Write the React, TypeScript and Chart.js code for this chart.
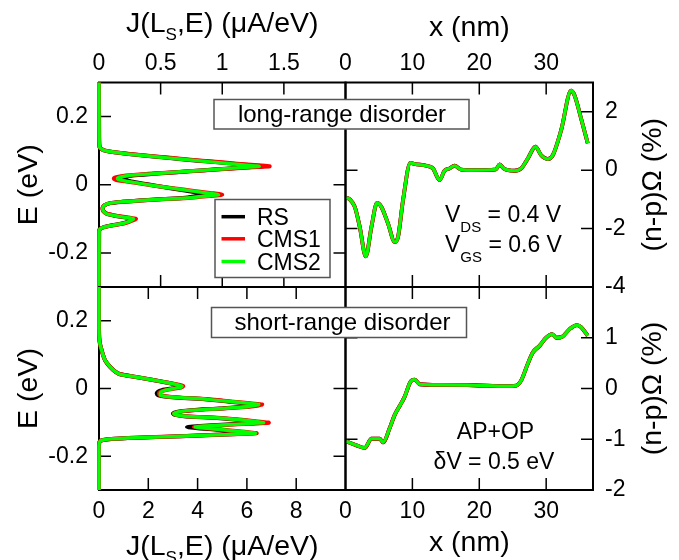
import React, { useEffect, useRef } from 'react';
import { Chart, registerables } from 'chart.js';

Chart.register(...registerables);

const FONT = '"Liberation Sans", Arial, Helvetica, sans-serif';
const CW = 679;
const CH = 560;

// ---------------- data ----------------
const SERIES_NAMES = ['RS', 'CMS1', 'CMS2'];
const SERIES_COLORS = ['#000000', '#ff0000', '#00ff00'];

// Long-range disorder: J(LS,E) spectrum (E in eV, J in uA/eV)
const LR_E = [0.30, 0.14, 0.110, 0.105, 0.100, 0.096, 0.090, 0.083, 0.075, 0.068, 0.062, 0.057, 0.054, 0.051, 0.047, 0.042, 0.037, 0.032, 0.027, 0.022, 0.018, 0.014, 0.010, 0.004, -0.003, -0.010, -0.018, -0.024, -0.029, -0.033, -0.038, -0.042, -0.046, -0.050, -0.054, -0.060, -0.066, -0.071, -0.077, -0.085, -0.091, -0.096, -0.100, -0.104, -0.109, -0.113, -0.119, -0.125, -0.130, -0.136, -0.30];
const LR_J_RS = [0, 0.001, 0.005, 0.02, 0.05, 0.11, 0.24, 0.44, 0.67, 0.89, 1.08, 1.24, 1.33, 1.20, 1.03, 0.83, 0.63, 0.44, 0.27, 0.20, 0.19, 0.21, 0.26, 0.35, 0.46, 0.58, 0.71, 0.80, 0.85, 0.80, 0.70, 0.52, 0.33, 0.19, 0.09, 0.045, 0.032, 0.03, 0.035, 0.06, 0.13, 0.22, 0.27, 0.255, 0.23, 0.195, 0.105, 0.034, 0.008, 0.001, 0];
const LR_J_CMS1 = [0, 0.001, 0.005, 0.02, 0.05, 0.11, 0.25, 0.46, 0.70, 0.92, 1.12, 1.29, 1.385, 1.24, 1.06, 0.84, 0.62, 0.40, 0.22, 0.14, 0.12, 0.14, 0.21, 0.32, 0.45, 0.60, 0.77, 0.90, 1.0, 0.90, 0.75, 0.55, 0.34, 0.19, 0.09, 0.045, 0.03, 0.028, 0.035, 0.065, 0.14, 0.24, 0.30, 0.28, 0.245, 0.21, 0.115, 0.036, 0.008, 0.001, 0];
const LR_J_CMS2 = [0, 0.001, 0.005, 0.02, 0.05, 0.11, 0.24, 0.44, 0.67, 0.88, 1.06, 1.21, 1.30, 1.18, 1.02, 0.82, 0.62, 0.42, 0.24, 0.17, 0.15, 0.17, 0.23, 0.33, 0.45, 0.59, 0.75, 0.87, 0.97, 0.88, 0.74, 0.54, 0.335, 0.19, 0.09, 0.045, 0.032, 0.03, 0.035, 0.06, 0.13, 0.22, 0.28, 0.265, 0.235, 0.20, 0.11, 0.035, 0.008, 0.001, 0];

// Short-range disorder: J(LS,E) spectrum
const SR_E = [0.30, 0.18, 0.15, 0.132, 0.115, 0.100, 0.083, 0.064, 0.050, 0.042, 0.034, 0.025, 0.017, 0.011, 0.007, 0.003, 0.000, -0.005, -0.010, -0.015, -0.020, -0.025, -0.032, -0.039, -0.044, -0.047, -0.050, -0.054, -0.059, -0.064, -0.069, -0.074, -0.078, -0.082, -0.088, -0.094, -0.099, -0.101, -0.104, -0.108, -0.111, -0.114, -0.118, -0.122, -0.126, -0.130, -0.132, -0.134, -0.137, -0.141, -0.145, -0.149, -0.153, -0.158, -0.170, -0.30];
const SR_J_RS = [0, 0, 0.01, 0.04, 0.1, 0.16, 0.25, 0.45, 0.66, 0.86, 1.5, 2.2, 2.8, 3.15, 3.3, 3.22, 2.95, 2.55, 2.38, 2.34, 2.4, 2.85, 4.3, 5.3, 5.95, 6.4, 6.25, 5.9, 4.9, 3.75, 3.15, 3.0, 3.08, 3.45, 4.9, 5.8, 6.4, 6.6, 5.9, 4.8, 4.1, 3.57, 4.1, 4.8, 5.4, 5.95, 6.2, 5.9, 4.75, 3.3, 1.8, 0.5, 0.12, 0.02, 0, 0];
const SR_J_CMS1 = [0, 0, 0.01, 0.04, 0.1, 0.16, 0.25, 0.45, 0.66, 0.86, 1.5, 2.2, 2.82, 3.24, 3.42, 3.34, 3.04, 2.68, 2.47, 2.43, 2.48, 2.95, 4.4, 5.45, 6.2, 6.62, 6.48, 6.1, 5.05, 3.82, 3.22, 3.04, 3.12, 3.52, 5.05, 6.0, 6.65, 6.89, 6.15, 5.1, 4.35, 3.85, 4.4, 5.05, 5.65, 6.15, 6.4, 6.05, 4.85, 3.3, 1.8, 0.5, 0.12, 0.02, 0, 0];
const SR_J_CMS2 = [0, 0, 0.01, 0.04, 0.1, 0.16, 0.25, 0.45, 0.66, 0.86, 1.5, 2.2, 2.8, 3.2, 3.37, 3.3, 3.02, 2.7, 2.52, 2.48, 2.5, 2.95, 4.38, 5.4, 6.1, 6.48, 6.35, 6.0, 5.0, 3.8, 3.2, 3.03, 3.1, 3.5, 5.0, 5.9, 6.5, 6.68, 6.0, 5.0, 4.3, 3.9, 4.4, 5.0, 5.6, 6.1, 6.35, 6.0, 4.8, 3.3, 1.8, 0.5, 0.12, 0.02, 0, 0];

// (n-p)Omega (%) along x (nm)
const X_LR = [0.1, 0.64, 1.39, 2.13, 3.03, 3.88, 4.72, 5.37, 6.36, 7.36, 7.85, 8.6, 9.7, 10.34, 12.1, 13.07, 14.07, 14.8, 15.57, 16.3, 17.3, 19.05, 22.5, 23.03, 23.63, 25.27, 26.27, 27.26, 28.4, 29.25, 30.24, 30.99, 32.24, 33.73, 34.22, 35.22, 36.21];
const NP_LR = [-0.94, -1.0, -1.26, -1.94, -2.95, -1.94, -1.12, -1.26, -1.83, -2.46, -2.29, -1.03, 0.25, 0.21, 0.15, 0.06, -0.34, -0.02, 0.06, 0.15, 0.02, 0, 0.03, 0.2, 0.06, -0.02, 0.06, 0.4, 0.8, 0.51, 0.38, 0.51, 1.37, 2.72, 2.57, 1.77, 0.92];
const X_SR = [0.1, 1.64, 2.88, 3.88, 5.12, 5.61, 6.61, 7.36, 8.1, 8.85, 9.7, 10.34, 11.09, 14.07, 19.05, 24.03, 25.52, 26.27, 27.26, 28.0, 29.0, 30.0, 30.9, 31.5, 32.4, 33.5, 34.63, 35.22, 36.21];
const NP_SR = [-1.04, -1.12, -1.17, -0.99, -0.99, -1.06, -0.78, -0.52, -0.345, -0.16, 0.13, 0.175, 0.084, 0.07, 0.064, 0.045, 0.058, 0.16, 0.49, 0.71, 0.84, 1.0, 1.07, 1.0, 1.02, 1.17, 1.25, 1.21, 1.04];

// tick values and labels
const J_TOP_TICKS = [0, 0.5, 1, 1.5];
const J_TOP_LABELS = ['0', '0.5', '1', '1.5'];
const J_BOT_TICKS = [0, 2, 4, 6, 8];
const J_BOT_LABELS = ['0', '2', '4', '6', '8'];
const E_TICKS = [0.2, 0, -0.2];
const E_LABELS = ['0.2', '0', '-0.2'];
const X_TICKS = [0, 10, 20, 30];
const X_LABELS = ['0', '10', '20', '30'];
const NP_TOP_TICKS = [2, 0, -2, -4];
const NP_TOP_LABELS = ['2', '0', '-2', '-4'];
const NP_BOT_TICKS = [1, 0, -1, -2];
const NP_BOT_LABELS = ['1', '0', '-1', '-2'];

// ---------------- helpers ----------------
type Seg = [string, boolean?];

function rich(
  ctx: CanvasRenderingContext2D,
  segs: Seg[],
  x: number,
  y: number,
  size: number,
  subSize: number,
  subDy: number,
  align: 'left' | 'center',
  rot = 0
) {
  ctx.save();
  ctx.translate(x, y);
  if (rot) ctx.rotate(rot);
  ctx.fillStyle = '#000';
  ctx.textBaseline = 'alphabetic';
  ctx.textAlign = 'left';
  const f = (sub?: boolean) => `${sub ? subSize : size}px ${FONT}`;
  let w = 0;
  for (const [t, sub] of segs) {
    ctx.font = f(sub);
    w += ctx.measureText(t).width;
  }
  let cx = align === 'center' ? -w / 2 : 0;
  for (const [t, sub] of segs) {
    ctx.font = f(sub);
    ctx.fillText(t, cx, sub ? subDy : 0);
    cx += ctx.measureText(t).width;
  }
  ctx.restore();
}

function box(ctx: CanvasRenderingContext2D, x: number, y: number, w: number, h: number) {
  ctx.save();
  ctx.fillStyle = '#fff';
  ctx.fillRect(x, y, w, h);
  ctx.strokeStyle = '#555';
  ctx.lineWidth = 1.5;
  ctx.strokeRect(x, y, w, h);
  ctx.restore();
}

function spectrumSets(E: number[], Js: number[][]) {
  return Js.map((J, i) => ({
    label: SERIES_NAMES[i],
    data: E.map((e, k) => ({ x: J[k], y: e })),
    borderColor: SERIES_COLORS[i],
    backgroundColor: SERIES_COLORS[i],
    borderWidth: i === 2 ? 3.4 : 4,
    pointRadius: 0,
    pointHoverRadius: 0,
    showLine: true,
    fill: false,
    tension: 0.25,
    borderJoinStyle: 'round',
    order: 3 - i,
    clip: 4,
  }));
}

function profileSets(X: number[], V: number[]) {
  return SERIES_NAMES.map((name, i) => ({
    label: name,
    data: X.map((x, k) => ({ x, y: V[k] })),
    borderColor: SERIES_COLORS[i],
    backgroundColor: SERIES_COLORS[i],
    borderWidth: i === 2 ? 3.2 : 3.8,
    pointRadius: 0,
    pointHoverRadius: 0,
    showLine: true,
    fill: false,
    cubicInterpolationMode: 'monotone',
    borderJoinStyle: 'round',
    order: 3 - i,
    clip: 4,
  }));
}

type Spec = {
  area: { l: number; t: number; r: number; b: number };
  xPos: 'top' | 'bottom';
  yPos: 'left' | 'right';
  xRange: [number, number];
  yRange: [number, number];
  xTicks: number[];
  xLabels: string[];
  yTicks: number[];
  yLabels: string[];
  xPad: number;
  yPad: number;
  datasets: any[];
  deco: (ctx: CanvasRenderingContext2D, chart: any) => void;
};

const AX_W = 50;
const AX_H = 40;
const TICK_LEN = 12;
const TICK_FONT = 23;
const TITLE_FONT = 28.5;

function makeChart(canvas: HTMLCanvasElement, s: Spec) {
  const padding = {
    left: s.yPos === 'left' ? s.area.l - AX_W : s.area.l,
    right: s.yPos === 'right' ? CW - s.area.r - AX_W : CW - s.area.r,
    top: s.xPos === 'top' ? s.area.t - AX_H : s.area.t,
    bottom: s.xPos === 'bottom' ? CH - s.area.b - AX_H : CH - s.area.b,
  };
  const lab = (ticks: number[], labels: string[]) => (v: any) => {
    const i = ticks.findIndex((t) => Math.abs(t - Number(v)) < 1e-9);
    return i >= 0 ? labels[i] : '';
  };
  const asc = (a: number[]) => [...a].sort((p, q) => p - q).map((v) => ({ value: v }));
  const deco = {
    id: 'deco',
    beforeDatasetsDraw(chart: any) {
      const { ctx, chartArea: a } = chart;
      const xs = chart.scales.x;
      const ys = chart.scales.y;
      ctx.save();
      ctx.strokeStyle = '#000';
      ctx.lineWidth = 1.5;
      ctx.beginPath();
      for (const v of s.xTicks) {
        const p = xs.getPixelForValue(v);
        if (p > a.left + 2 && p < a.right - 2) {
          ctx.moveTo(p, a.top);
          ctx.lineTo(p, a.top + TICK_LEN);
          ctx.moveTo(p, a.bottom);
          ctx.lineTo(p, a.bottom - TICK_LEN);
        }
      }
      for (const v of s.yTicks) {
        const p = ys.getPixelForValue(v);
        if (p > a.top + 2 && p < a.bottom - 2) {
          ctx.moveTo(a.left, p);
          ctx.lineTo(a.left + TICK_LEN, p);
          ctx.moveTo(a.right, p);
          ctx.lineTo(a.right - TICK_LEN, p);
        }
      }
      ctx.stroke();
      ctx.lineWidth = 2;
      ctx.strokeRect(a.left, a.top, a.right - a.left, a.bottom - a.top);
      ctx.restore();
    },
    afterDraw(chart: any) {
      s.deco(chart.ctx, chart);
    },
  };
  return new Chart(canvas, {
    type: 'scatter',
    data: { datasets: s.datasets },
    options: {
      responsive: false,
      animation: false,
      devicePixelRatio: 1,
      events: [],
      layout: { padding },
      plugins: { legend: { display: false }, tooltip: { enabled: false }, title: { display: false } },
      scales: {
        x: {
          type: 'linear',
          position: s.xPos,
          min: s.xRange[0],
          max: s.xRange[1],
          grid: { display: false, drawTicks: false },
          border: { display: false },
          afterBuildTicks: (sc: any) => {
            sc.ticks = asc(s.xTicks);
          },
          afterFit: (sc: any) => {
            sc.height = AX_H;
          },
          ticks: {
            autoSkip: false,
            maxRotation: 0,
            minRotation: 0,
            padding: s.xPad,
            color: '#000',
            font: { family: FONT, size: TICK_FONT },
            callback: lab(s.xTicks, s.xLabels),
          },
        },
        y: {
          type: 'linear',
          position: s.yPos,
          min: s.yRange[0],
          max: s.yRange[1],
          grid: { display: false, drawTicks: false },
          border: { display: false },
          afterBuildTicks: (sc: any) => {
            sc.ticks = asc(s.yTicks);
          },
          afterFit: (sc: any) => {
            sc.width = AX_W;
          },
          ticks: {
            autoSkip: false,
            padding: s.yPad,
            color: '#000',
            font: { family: FONT, size: TICK_FONT },
            callback: lab(s.yTicks, s.yLabels),
          },
        },
      },
    } as any,
    plugins: [deco as any],
  });
}

// ---------------- layout ----------------
const L = 99;
const M = 345.5;
const R = 593;
const T = 82.5;
const MID = 287;
const B = 490;
const J_TITLE: Seg[] = [['J(L'], ['S', true], [',E) (\u03bcA/eV)']];
const NP_TITLE: Seg[] = [['(n-p)\u03a9 (%)']];
const E_TITLE: Seg[] = [['E (eV)']];
const X_TITLE: Seg[] = [['x (nm)']];

const specTL: Spec = {
  area: { l: L, t: T, r: M, b: MID },
  xPos: 'top',
  yPos: 'left',
  xRange: [0, 2],
  yRange: [-0.3, 0.3],
  xTicks: J_TOP_TICKS,
  xLabels: J_TOP_LABELS,
  yTicks: E_TICKS,
  yLabels: E_LABELS,
  xPad: 5,
  yPad: 11,
  datasets: spectrumSets(LR_E, [LR_J_RS, LR_J_CMS1, LR_J_CMS2]),
  deco: (ctx, chart) => {
    const a = chart.chartArea;
    rich(ctx, J_TITLE, (a.left + a.right) / 2, 31.5, TITLE_FONT, 17, 8.5, 'center');
    rich(ctx, E_TITLE, 36.5, (a.top + a.bottom) / 2, TITLE_FONT, 17, 8, 'center', -Math.PI / 2);
    box(ctx, 214, 99.5, 255, 29.5);
    rich(ctx, [['long-range disorder']], 342, 121.5, 24, 16, 8, 'center');
    // legend
    box(ctx, 215, 199.5, 115, 78);
    const rows = [216.7, 238.8, 261.5];
    SERIES_NAMES.forEach((name, i) => {
      ctx.save();
      ctx.strokeStyle = SERIES_COLORS[i];
      ctx.lineWidth = 3.5;
      ctx.beginPath();
      ctx.moveTo(221.5, rows[i]);
      ctx.lineTo(245, rows[i]);
      ctx.stroke();
      ctx.restore();
      rich(ctx, [[name]], 257, rows[i] + 8.3, 23, 15, 8, 'left');
    });
  },
};

const specTR: Spec = {
  area: { l: M, t: T, r: R, b: MID },
  xPos: 'top',
  yPos: 'right',
  xRange: [0, 37],
  yRange: [-4, 3],
  xTicks: X_TICKS,
  xLabels: X_LABELS,
  yTicks: NP_TOP_TICKS,
  yLabels: NP_TOP_LABELS,
  xPad: 5,
  yPad: 12,
  datasets: profileSets(X_LR, NP_LR),
  deco: (ctx, chart) => {
    const a = chart.chartArea;
    rich(ctx, X_TITLE, (a.left + a.right) / 2, 35.5, TITLE_FONT, 17, 8, 'center');
    rich(ctx, NP_TITLE, 660.5, (a.top + a.bottom) / 2, TITLE_FONT, 17, 8, 'center', -Math.PI / 2);
    rich(ctx, [['V'], ['DS', true], [' = 0.4 V']], 445, 221.5, 23, 15, 10, 'left');
    rich(ctx, [['V'], ['GS', true], [' = 0.6 V']], 445, 251.5, 23, 15, 10, 'left');
  },
};

const specBL: Spec = {
  area: { l: L, t: MID, r: M, b: B },
  xPos: 'bottom',
  yPos: 'left',
  xRange: [0, 10],
  yRange: [-0.3, 0.3],
  xTicks: J_BOT_TICKS,
  xLabels: J_BOT_LABELS,
  yTicks: E_TICKS,
  yLabels: E_LABELS,
  xPad: 8,
  yPad: 11,
  datasets: spectrumSets(SR_E, [SR_J_RS, SR_J_CMS1, SR_J_CMS2]),
  deco: (ctx, chart) => {
    const a = chart.chartArea;
    rich(ctx, J_TITLE, (a.left + a.right) / 2, 554.5, TITLE_FONT, 17, 8.5, 'center');
    rich(ctx, E_TITLE, 36.5, (a.top + a.bottom) / 2, TITLE_FONT, 17, 8, 'center', -Math.PI / 2);
    box(ctx, 211.5, 307.5, 255, 30);
    rich(ctx, [['short-range disorder']], 342.5, 330, 24, 16, 8, 'center');
  },
};

const specBR: Spec = {
  area: { l: M, t: MID, r: R, b: B },
  xPos: 'bottom',
  yPos: 'right',
  xRange: [0, 37],
  yRange: [-2, 2],
  xTicks: X_TICKS,
  xLabels: X_LABELS,
  yTicks: NP_BOT_TICKS,
  yLabels: NP_BOT_LABELS,
  xPad: 8,
  yPad: 12,
  datasets: profileSets(X_SR, NP_SR),
  deco: (ctx, chart) => {
    const a = chart.chartArea;
    rich(ctx, X_TITLE, (a.left + a.right) / 2, 550.8, TITLE_FONT, 17, 8, 'center');
    rich(ctx, NP_TITLE, 660.5, (a.top + a.bottom) / 2, TITLE_FONT, 17, 8, 'center', -Math.PI / 2);
    rich(ctx, [['AP+OP']], 495.5, 439.3, 23, 15, 8, 'center');
    rich(ctx, [['\u03b4V = 0.5 eV']], 494, 469.3, 23, 15, 8, 'center');
  },
};

// drawing order: right panels below, left panels (with the boxes) on top
const SPECS = [specTR, specBR, specTL, specBL];

export default function App() {
  const refs = [
    useRef<HTMLCanvasElement>(null),
    useRef<HTMLCanvasElement>(null),
    useRef<HTMLCanvasElement>(null),
    useRef<HTMLCanvasElement>(null),
  ];
  useEffect(() => {
    document.body.style.margin = '0';
    const charts = SPECS.map((s, i) => makeChart(refs[i].current as HTMLCanvasElement, s));
    return () => charts.forEach((c) => c.destroy());
  }, []);
  return (
    <div style={{ position: 'fixed', left: 0, top: 0, width: CW, height: CH, background: '#fff' }}>
      {SPECS.map((_, i) => (
        <canvas
          key={i}
          ref={refs[i]}
          width={CW}
          height={CH}
          style={{ position: 'absolute', left: 0, top: 0, width: CW, height: CH }}
        />
      ))}
    </div>
  );
}
